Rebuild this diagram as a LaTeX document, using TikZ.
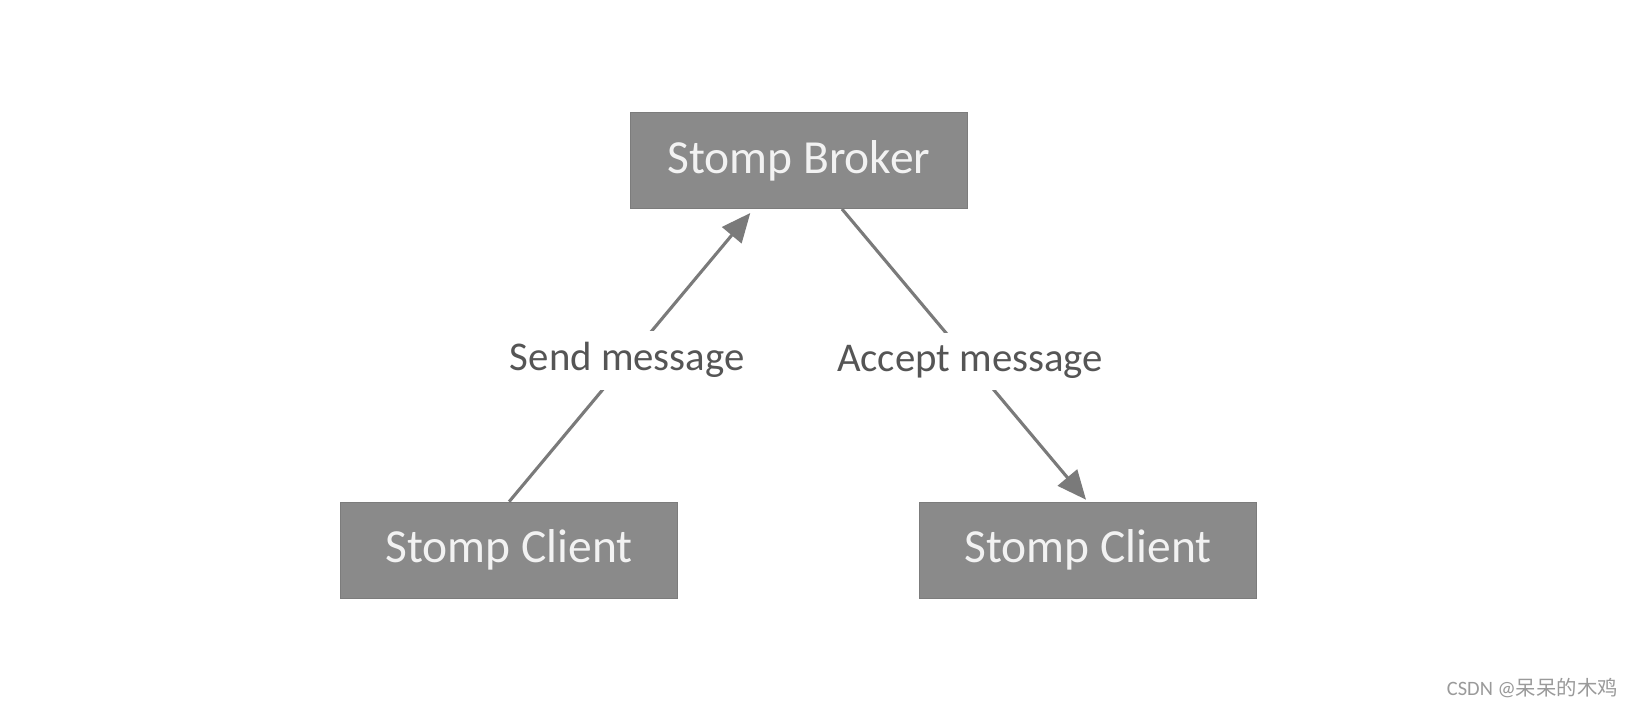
\documentclass[tikz,border=0pt]{standalone}
\usepackage{fontspec}
\setmainfont{Carlito}
\newfontfamily\cjkfont{Noto Sans CJK SC}
\usetikzlibrary{arrows.meta,calc}
\definecolor{boxgray}{HTML}{8A8A8A}
\definecolor{linegray}{HTML}{7A7A7A}
\definecolor{labelgray}{HTML}{555555}
\definecolor{wmgray}{HTML}{9A9A9A}
\tikzset{
  box/.style={fill=boxgray, draw=boxgray!90!black, line width=1pt, minimum width=336.6pt, minimum height=96pt, inner sep=0pt,
    text=white!95!black, font=\fontsize{47.5}{54}\selectfont},
  conn/.style={draw=linegray, line width=3.1pt, -{Triangle[length=29pt,width=25pt]}},
  lbl/.style={fill=white, text=labelgray, inner sep=12pt, font=\fontsize{40.8}{46}\selectfont}
}
\begin{document}
\begin{tikzpicture}[x=1pt,y=-1pt]
\useasboundingbox (0,0) rectangle (1634,705);
\fill[white] (0,0) rectangle (1634,705);
\node[box] (broker) at (798.8,160.5) {Stomp Broker};
\node[box] (cl) at (509.1,550.2) {Stomp Client};
\node[box] (cr) at (1088,550.2) {Stomp Client};
\draw[conn] (cl.north) -- ([xshift=-48.5pt,yshift=-4pt]broker.south) node[lbl, pos=0.49] (send) {Send message};
\draw[conn] ([xshift=43.2pt]broker.south) -- ([xshift=-2pt,yshift=2pt]cr.north) node[lbl, pos=0.525] (accept) {Accept message};
\node[anchor=east, text=wmgray, inner sep=0pt, font=\fontsize{20.4}{24}\selectfont] (wm) at (1618,688) {CSDN @{\cjkfont 呆呆的木鸡}};
\end{tikzpicture}
\end{document}
